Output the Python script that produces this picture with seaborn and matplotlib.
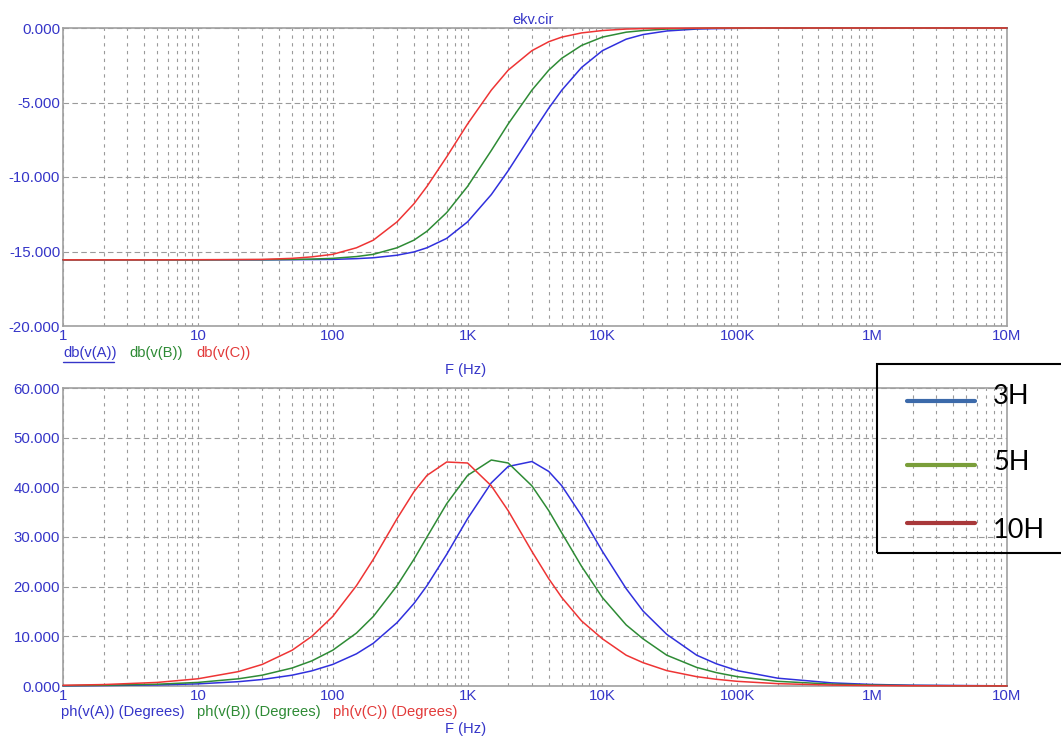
import numpy as np
import pandas as pd
import matplotlib
matplotlib.use("Agg")
import matplotlib.pyplot as plt
import seaborn as sns
from matplotlib.ticker import LogLocator, FixedLocator, NullFormatter
from matplotlib.lines import Line2D
from matplotlib.patches import Rectangle

# ---------------- data ----------------
freq = [1, 2, 5, 10, 20, 30, 50, 70, 100, 150, 200, 300, 400, 500, 700, 1e3, 1.5e3,
        2e3, 3e3, 4e3, 5e3, 7e3, 1e4, 1.5e4, 2e4, 3e4, 5e4, 7e4, 1e5, 2e5, 5e5, 1e6,
        2e6, 1e7]

db_A = [-15.56, -15.56, -15.56, -15.56, -15.56, -15.56, -15.55, -15.54, -15.53, -15.48,
        -15.42, -15.25, -15.03, -14.75, -14.12, -13.01, -11.18, -9.58, -7.10, -5.38,
        -4.17, -2.65, -1.52, -0.75, -0.44, -0.20, -0.07, -0.04, -0.02, -0.01, 0, 0, 0, 0]
db_B = [-15.56, -15.56, -15.56, -15.56, -15.55, -15.55, -15.53, -15.51, -15.46, -15.34,
        -15.19, -14.75, -14.24, -13.64, -12.39, -10.63, -8.22, -6.44, -4.17, -2.83,
        -2.03, -1.17, -0.61, -0.28, -0.17, -0.07, -0.03, -0.01, -0.01, 0, 0, 0, 0, 0]
db_C = [-15.56, -15.56, -15.56, -15.55, -15.54, -15.53, -15.46, -15.36, -15.19, -14.75,
        -14.24, -13.01, -11.80, -10.63, -8.65, -6.44, -4.17, -2.83, -1.52, -0.92,
        -0.61, -0.33, -0.17, -0.07, -0.04, -0.02, -0.01, 0, 0, 0, 0, 0, 0, 0]

ph_A = [0.04, 0.09, 0.22, 0.43, 0.87, 1.31, 2.18, 3.05, 4.34, 6.48, 8.60, 12.76, 16.6,
        20.2, 26.5, 33.7, 40.9, 44.2, 45.2, 43.2, 40.3, 34.3, 27.1, 19.6, 15.1, 10.4,
        6.2, 4.47, 3.1, 1.57, 0.63, 0.31, 0.16, 0.03]
ph_B = [0.07, 0.15, 0.36, 0.72, 1.45, 2.18, 3.62, 5.06, 7.20, 10.66, 14.0, 20.2, 25.5,
        30.0, 36.7, 42.4, 45.5, 44.9, 40.3, 35.3, 30.8, 24.1, 17.8, 12.3, 9.5, 6.2,
        3.74, 2.69, 1.88, 0.94, 0.38, 0.19, 0.09, 0.02]
ph_C = [0.15, 0.29, 0.72, 1.45, 2.90, 4.34, 7.20, 10.0, 14.0, 20.2, 25.5, 33.7, 39.1,
        42.4, 45.1, 44.9, 40.3, 35.3, 27.1, 21.6, 17.8, 13.1, 9.5, 6.2, 4.7, 3.1,
        1.88, 1.35, 0.94, 0.47, 0.19, 0.09, 0.05, 0.01]

db_names = ["db(v(A))", "db(v(B))", "db(v(C))"]
ph_names = ["ph(v(A)) (Degrees)", "ph(v(B)) (Degrees)", "ph(v(C)) (Degrees)"]
x_ticks = [1, 10, 100, 1e3, 1e4, 1e5, 1e6, 1e7]
x_ticklabels = ["1", "10", "100", "1K", "10K", "100K", "1M", "10M"]
db_yticks = [0, -5, -10, -15, -20]
ph_yticks = [0, 10, 20, 30, 40, 50, 60]
legend_labels = ["3H", "5H", "10H"]

# ---------------- style ----------------
sns.set_style("white")
plt.rcParams["font.family"] = ["Liberation Sans", "DejaVu Sans"]

curve_colors = ["#3030DD", "#2E8B35", "#EE3434"]
text_colors = ["#3535C8", "#2E8B35", "#E23A3A"]
label_blue = "#3535C8"
grid_col = "#9A9A9A"
spine_col = "#A0A0A0"
leg_colors = ["#3C6AAA", "#7A9E3A", "#A8383A"]

W, H = 1061, 738
fig = plt.figure(figsize=(W / 100, H / 100), dpi=100)
fig.patch.set_facecolor("white")

def fx(px):
    return px / W

def fy(py):
    return 1 - py / H

ax1 = fig.add_axes([fx(63), fy(326), fx(1007) - fx(63), fy(28) - fy(326)])
ax2 = fig.add_axes([fx(63), fy(686), fx(1007) - fx(63), fy(388) - fy(686)])

df_db = pd.DataFrame({
    "F": freq * 3,
    "val": db_A + db_B + db_C,
    "series": sum([[n] * len(freq) for n in db_names], []),
})
df_ph = pd.DataFrame({
    "F": freq * 3,
    "val": ph_A + ph_B + ph_C,
    "series": sum([[n] * len(freq) for n in ph_names], []),
})

for ax, df, names, ylim, yticks in [
    (ax1, df_db, db_names, (-20, 0), db_yticks),
    (ax2, df_ph, ph_names, (0, 60), ph_yticks),
]:
    sns.lineplot(data=df, x="F", y="val", hue="series", hue_order=names,
                 palette=curve_colors, ax=ax, legend=False, estimator=None,
                 sort=False, linewidth=1.1, zorder=3)
    for ln in ax.get_lines():
        ln.set_clip_on(False)
    ax.set_xscale("log")
    ax.set_xlim(1, 1e7)
    ax.set_ylim(*ylim)
    ax.set_xlabel("")
    ax.set_ylabel("")
    ax.xaxis.set_major_locator(FixedLocator(x_ticks))
    ax.set_xticklabels(x_ticklabels)
    ax.xaxis.set_minor_locator(LogLocator(base=10, subs=np.arange(2, 10), numticks=20))
    ax.xaxis.set_minor_formatter(NullFormatter())
    ax.set_yticks(yticks)
    ax.set_yticklabels([f"{v:.3f}" for v in yticks])
    ax.tick_params(axis="both", which="both", length=0, labelsize=10.8,
                   labelcolor=label_blue)
    ax.tick_params(axis="x", pad=2)
    ax.tick_params(axis="y", pad=2)
    ax.grid(True, axis="x", which="both", color=grid_col, linestyle=(0, (3, 4)),
            linewidth=0.8)
    ax.grid(True, axis="y", which="major", color=grid_col, linestyle=(0, (5, 3)),
            linewidth=0.8)
    ax.set_axisbelow(True)
    for sp in ax.spines.values():
        sp.set_visible(True)
        sp.set_color(spine_col)
        sp.set_linewidth(1.2)

# title
fig.text(fx(533), fy(20), "ekv.cir", color=label_blue, fontsize=10.5,
         ha="center", va="center")

# series labels under top plot
db_x = [63, 129, 196]
for name, x, c in zip(db_names, db_x, text_colors):
    fig.text(fx(x), fy(353), name, color=c, fontsize=10.6, ha="left", va="center")
fig.add_artist(Line2D([fx(63), fx(114)], [fy(362), fy(362)], color=text_colors[0],
                      linewidth=1.0, transform=fig.transFigure))
fig.text(fx(466), fy(370), "F (Hz)", color=label_blue, fontsize=10.6,
         ha="center", va="center")

# series labels under bottom plot
ph_x = [61, 197, 333]
for name, x, c in zip(ph_names, ph_x, text_colors):
    fig.text(fx(x), fy(712), name, color=c, fontsize=10.6, ha="left", va="center")
fig.text(fx(466), fy(729), "F (Hz)", color=label_blue, fontsize=10.6,
         ha="center", va="center")

# overlaid legend box (transparent, black border)
fig.add_artist(Rectangle((fx(877), fy(553)), fx(1064) - fx(877), fy(364) - fy(553),
                         transform=fig.transFigure, fill=False, edgecolor="black",
                         linewidth=1.5, clip_on=False))
leg_line_y = [401, 465, 523]
leg_text_y = [396, 463, 531]
for lab, c, ly, ty in zip(legend_labels, leg_colors, leg_line_y, leg_text_y):
    fig.add_artist(Line2D([fx(907), fx(975)], [fy(ly), fy(ly)], color=c,
                          linewidth=3.0, transform=fig.transFigure))
    fig.text(fx(993), fy(ty), lab, color="black", fontsize=19.5, ha="left",
             va="center", family=["Lato", "DejaVu Sans"])

fig.savefig("out.png", dpi=100, facecolor="white")
